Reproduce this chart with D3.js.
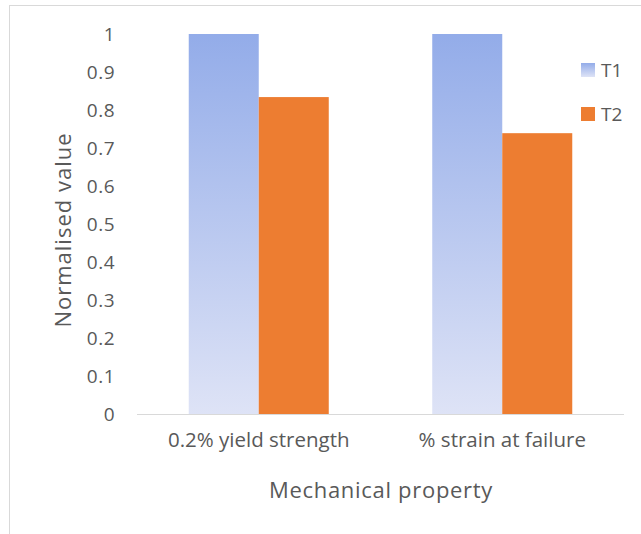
<!DOCTYPE html>
<html>
<head>
<meta charset="utf-8">
<script src="https://cdn.jsdelivr.net/npm/d3@7"></script>
<style>
  html, body { margin: 0; padding: 0; background: #fff; }
  svg { display: block; }
  text { font-family: "Open Sans", sans-serif; fill: #595959; }
</style>
</head>
<body>
<script>
// Normalised mechanical properties for two treatments
const categories = ["0.2% yield strength", "% strain at failure"];
const seriesNames = ["T1", "T2"];
const t1Values = [1, 1];
const t2Values = [0.834, 0.739];
const yTicks = [0, 0.1, 0.2, 0.3, 0.4, 0.5, 0.6, 0.7, 0.8, 0.9, 1];

const width = 641, height = 534;
const margin = { left: 137, right: 17, top: 34, bottom: 120 };
const font = "'Open Sans', sans-serif";

const svg = d3.select("body").append("svg")
  .attr("width", width).attr("height", height);

// vertical gradient used for the T1 bars
const defs = svg.append("defs");
const grad = defs.append("linearGradient")
  .attr("id", "t1grad").attr("x1", 0).attr("y1", 0).attr("x2", 0).attr("y2", 1);
grad.append("stop").attr("offset", "0%").attr("stop-color", "#93ace9");
grad.append("stop").attr("offset", "100%").attr("stop-color", "#dee3f6");

// chart area frame
svg.append("rect")
  .attr("x", 9.5).attr("y", 5.5)
  .attr("width", 700).attr("height", 600)
  .attr("fill", "none").attr("stroke", "#d9d9d9").attr("stroke-width", 1);

const x0 = d3.scaleBand()
  .domain(categories)
  .range([margin.left, width - margin.right])
  .paddingInner(0.425).paddingOuter(0.2125);

const x1 = d3.scaleBand()
  .domain(seriesNames)
  .range([0, x0.bandwidth()]);

const y = d3.scaleLinear()
  .domain([0, 1])
  .range([height - margin.bottom, margin.top]);

const fills = { T1: "url(#t1grad)", T2: "#ed7d31" };
const rows = categories.map((c, i) => ({ cat: c, vals: [
  { key: "T1", v: t1Values[i] }, { key: "T2", v: t2Values[i] }
]}));

// bars
const g = svg.append("g");
g.selectAll("g.grp").data(rows).join("g")
  .attr("class", "grp")
  .attr("transform", d => `translate(${x0(d.cat)},0)`)
  .selectAll("rect").data(d => d.vals).join("rect")
  .attr("x", d => x1(d.key))
  .attr("width", x1.bandwidth())
  .attr("y", d => y(d.v))
  .attr("height", d => y(0) - y(d.v))
  .attr("fill", d => fills[d.key]);

// x axis baseline
svg.append("line")
  .attr("x1", margin.left).attr("x2", width - margin.right)
  .attr("y1", y(0) + 0.5).attr("y2", y(0) + 0.5)
  .attr("stroke", "#d9d9d9").attr("stroke-width", 1.2);

// y tick labels
const yAxis = d3.axisLeft(y).tickValues(yTicks).tickSize(0).tickPadding(0)
  .tickFormat(d => String(+d.toFixed(1)));
const ya = svg.append("g").attr("transform", `translate(115,0)`).call(yAxis);
ya.select(".domain").remove();
ya.selectAll("text")
  .attr("font-size", 19).attr("fill", "#595959")
  .attr("letter-spacing", 0.5)
  .style("font-family", font);

// category labels
const xAxis = d3.axisBottom(x0).tickSize(0).tickPadding(0);
const xa = svg.append("g").attr("transform", `translate(0,${y(0) + 24})`).call(xAxis);
xa.select(".domain").remove();
xa.selectAll("text")
  .attr("font-size", 20.5).attr("fill", "#595959")
  .attr("dy", "0.45em")
  .style("font-family", font);

// axis titles
svg.append("text")
  .attr("x", 381)
  .attr("y", 498)
  .attr("text-anchor", "middle")
  .attr("font-size", 22)
  .attr("letter-spacing", 0.7)
  .text("Mechanical property");

svg.append("text")
  .attr("transform", `translate(71,230) rotate(-90)`)
  .attr("text-anchor", "middle")
  .attr("font-size", 22)
  .attr("letter-spacing", 1)
  .text("Normalised value");

// legend
const legend = svg.append("g").attr("transform", "translate(581,63)");
seriesNames.forEach((s, i) => {
  const row = legend.append("g").attr("transform", `translate(0,${i * 44})`);
  row.append("rect").attr("width", 14).attr("height", 14).attr("fill", fills[s]);
  row.append("text").attr("x", 20).attr("y", 7).attr("dy", "0.36em")
    .attr("font-size", 19).text(s);
});
</script>
</body>
</html>
